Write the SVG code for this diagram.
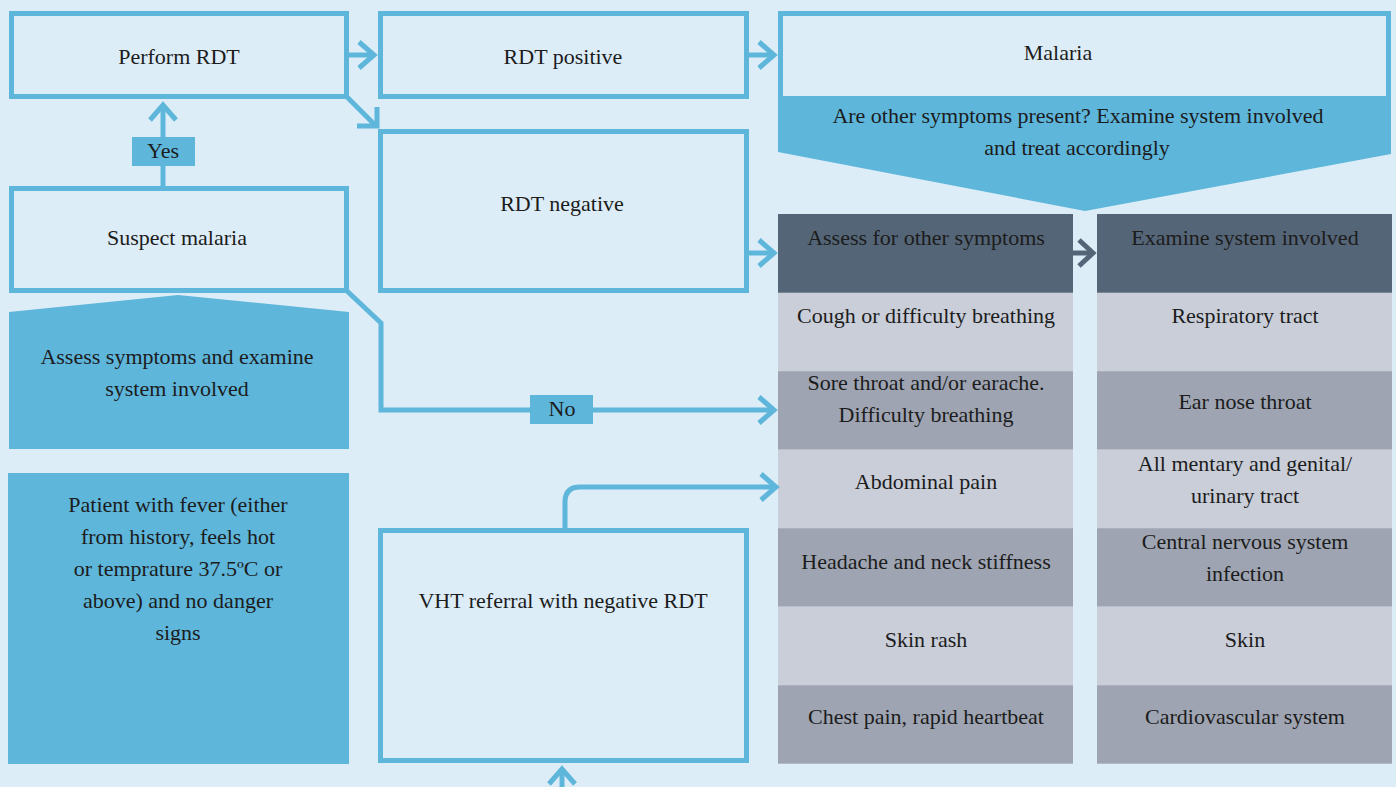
<svg xmlns="http://www.w3.org/2000/svg" width="1396" height="787" viewBox="0 0 1396 787">
<style>
.t{font-family:"Liberation Serif","DejaVu Serif",serif;font-size:22px;fill:#1c1c1c;text-anchor:middle}
.box{fill:#dcedf7;stroke:#5eb6db;stroke-width:5}
.blue{fill:#5eb6db}
.con{fill:none;stroke:#5eb6db;stroke-width:5}
.hd{fill:#546577}
.lt{fill:#c9ced8}
.dk{fill:#9ea4b1}
</style>
<defs>
<marker id="ah" markerUnits="userSpaceOnUse" orient="auto" overflow="visible" refX="0" refY="0" markerWidth="1" markerHeight="1">
<path d="M-15,-13 L0,0 L-15,13" fill="none" stroke="#5eb6db" stroke-width="5"/>
</marker>
<marker id="ahd" markerUnits="userSpaceOnUse" orient="auto" overflow="visible" refX="0" refY="0" markerWidth="1" markerHeight="1">
<path d="M-14,-13 L0,0 L-14,13" fill="none" stroke="#546577" stroke-width="5"/>
</marker>
</defs>
<rect width="1396" height="787" fill="#dcedf7"/>

<g id="perform-rdt">
<rect class="box" x="11.5" y="13.5" width="335" height="83"/>
<text class="t" x="179" y="64">Perform RDT</text>
</g>
<g id="suspect-malaria">
<rect class="box" x="11.5" y="188.5" width="335" height="102"/>
<text class="t" x="177" y="245">Suspect malaria</text>
</g>
<g id="assess-symptoms">
<polygon class="blue" points="9,312 178,295 349,312 349,449 9,449"/>
<text class="t" x="177" y="364">Assess symptoms and examine</text>
<text class="t" x="177" y="396">system involved</text>
</g>
<g id="patient-fever">
<rect class="blue" x="8" y="473" width="341" height="291"/>
<text class="t" x="178" y="512">Patient with fever (either</text>
<text class="t" x="178" y="544">from history, feels hot</text>
<text class="t" x="178" y="576">or temprature 37.5ºC or</text>
<text class="t" x="178" y="608">above) and no danger</text>
<text class="t" x="178" y="640">signs</text>
</g>
<g id="rdt-positive">
<rect class="box" x="380.5" y="13.5" width="366" height="83"/>
<text class="t" x="563" y="64">RDT positive</text>
</g>
<g id="rdt-negative">
<rect class="box" x="380.5" y="131.5" width="366" height="159"/>
<text class="t" x="562" y="211">RDT negative</text>
</g>
<g id="vht-referral">
<rect class="box" x="380.5" y="530.5" width="366" height="230"/>
<text class="t" x="563" y="608">VHT referral with negative RDT</text>
</g>
<g id="malaria">
<rect class="box" x="780.5" y="13.5" width="608" height="90"/>
<polygon class="blue" points="778,96 1391,96 1391,154 1085,211 778,152"/>
<text class="t" x="1058" y="60">Malaria</text>
<text class="t" x="1078" y="123">Are other symptoms present? Examine system involved</text>
<text class="t" x="1077" y="155">and treat accordingly</text>
</g>

<g id="symptoms-table">
<rect class="hd" x="778" y="214" width="295" height="79"/>
<rect class="lt" x="778" y="292.7" width="295" height="78.5"/>
<rect class="dk" x="778" y="371.2" width="295" height="78.5"/>
<rect class="lt" x="778" y="449.7" width="295" height="78.5"/>
<rect class="dk" x="778" y="528.2" width="295" height="78.5"/>
<rect class="lt" x="778" y="606.7" width="295" height="78.5"/>
<rect class="dk" x="778" y="685.2" width="295" height="78.5"/>
<text class="t" x="926" y="245">Assess for other symptoms</text>
<text class="t" x="926" y="323">Cough or difficulty breathing</text>
<text class="t" x="926" y="390">Sore throat and/or earache.</text>
<text class="t" x="926" y="422">Difficulty breathing</text>
<text class="t" x="926" y="489">Abdominal pain</text>
<text class="t" x="926" y="569">Headache and neck stiffness</text>
<text class="t" x="926" y="647">Skin rash</text>
<text class="t" x="926" y="724">Chest pain, rapid heartbeat</text>
</g>
<g id="systems-table">
<rect class="hd" x="1097" y="214" width="295" height="79"/>
<rect class="lt" x="1097" y="292.7" width="295" height="78.5"/>
<rect class="dk" x="1097" y="371.2" width="295" height="78.5"/>
<rect class="lt" x="1097" y="449.7" width="295" height="78.5"/>
<rect class="dk" x="1097" y="528.2" width="295" height="78.5"/>
<rect class="lt" x="1097" y="606.7" width="295" height="78.5"/>
<rect class="dk" x="1097" y="685.2" width="295" height="78.5"/>
<text class="t" x="1245" y="245">Examine system involved</text>
<text class="t" x="1245" y="323">Respiratory tract</text>
<text class="t" x="1245" y="409">Ear nose throat</text>
<text class="t" x="1245" y="471">All mentary and genital/</text>
<text class="t" x="1245" y="503">urinary tract</text>
<text class="t" x="1245" y="549">Central nervous system</text>
<text class="t" x="1245" y="581">infection</text>
<text class="t" x="1245" y="647">Skin</text>
<text class="t" x="1245" y="724">Cardiovascular system</text>
</g>

<g id="connectors">
<line class="con" x1="349" y1="55" x2="374" y2="55" marker-end="url(#ah)"/>
<line class="con" x1="749" y1="55" x2="774" y2="55" marker-end="url(#ah)"/>
<line class="con" x1="749" y1="253" x2="774" y2="253" marker-end="url(#ah)"/>
<path class="con" d="M347,97 L375,125"/>
<path class="con" d="M377,107 L377,126 L357,126" stroke-linejoin="miter"/>
<line class="con" x1="163" y1="187" x2="163" y2="105" marker-end="url(#ah)"/>
<path class="con" d="M347,291 L381,323 L381,410 L774,410" marker-end="url(#ah)"/>
<path class="con" d="M565,529 L565,502 Q565,487 580,487 L776,487" marker-end="url(#ah)"/>
<line class="con" x1="562" y1="787" x2="562" y2="769" marker-end="url(#ah)"/>
<line x1="1073" y1="253" x2="1093" y2="253" stroke="#546577" stroke-width="5" marker-end="url(#ahd)"/>
<rect class="blue" x="132" y="137" width="63" height="29"/>
<text class="t" x="163" y="158">Yes</text>
<rect class="blue" x="530" y="395" width="63" height="29"/>
<text class="t" x="562" y="416">No</text>
</g>
</svg>
